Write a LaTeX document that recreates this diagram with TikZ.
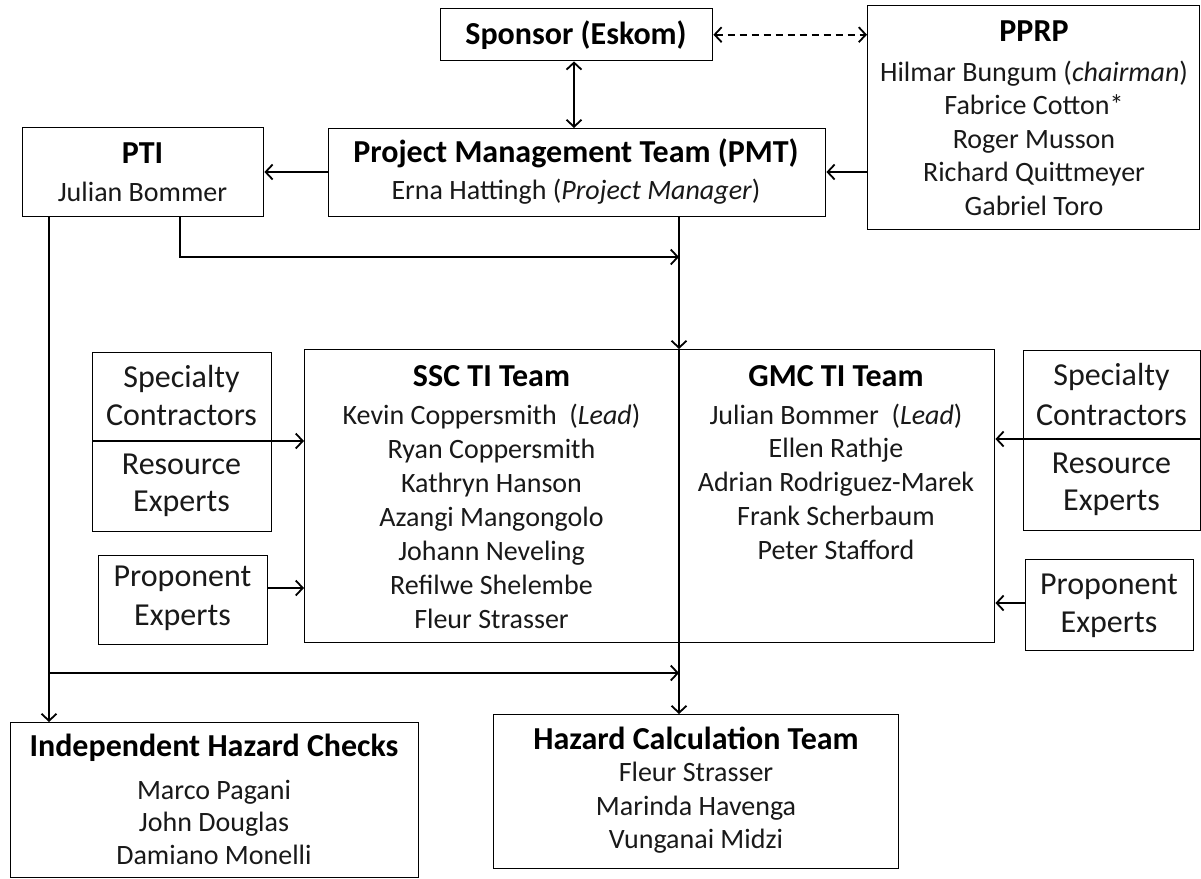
\documentclass[tikz,border=0pt]{standalone}
\usepackage{fontspec}
\setmainfont{Carlito}
\usetikzlibrary{arrows.meta}
\begin{document}
\begin{tikzpicture}[x=1pt,y=-1pt,
  box/.style={draw=black, line width=1.4pt, inner sep=0pt, anchor=north west},
  txt/.style={inner sep=0pt, align=center, text=black!90},
  ttl/.style={inner sep=0pt, align=center, text=black, font=\fontsize{32}{36}\selectfont\bfseries},
  arr/.style={line width=1.8pt, -{Straight Barb[length=7pt,width=15pt,line width=1.8pt]}},
  darr/.style={line width=1.8pt, {Straight Barb[length=7pt,width=15pt,line width=1.8pt]}-{Straight Barb[length=7pt,width=15pt,line width=1.8pt]}},
  ln/.style={line width=1.8pt}]
\useasboundingbox (0,0) rectangle (1201,878);
\fill[white] (0,0) rectangle (1201,878);
% boxes
\node[box, minimum width=272pt, minimum height=52pt] (sp) at (440,8) {};
\node[box, minimum width=332pt, minimum height=224pt] (pprp) at (867,5) {};
\node[box, minimum width=497pt, minimum height=88pt] (pmt) at (328,128) {};
\node[box, minimum width=241pt, minimum height=89pt] (pti) at (22,127) {};
\node[box, minimum width=690pt, minimum height=293pt] (ti) at (304,349) {};
\node[box, minimum width=179pt, minimum height=179pt] (lsr) at (92,352) {};
\node[box, minimum width=169pt, minimum height=89pt] (lpe) at (98,555) {};
\node[box, minimum width=177pt, minimum height=180pt] (rsr) at (1023,350) {};
\node[box, minimum width=168pt, minimum height=91pt] (rpe) at (1025,559) {};
\node[box, minimum width=408pt, minimum height=155pt] (ihc) at (10,722) {};
\node[box, minimum width=405pt, minimum height=154pt] (hct) at (493,714) {};
% inner coordinates
\coordinate (divtop) at (679,349);
\coordinate (divbot) at (679,642);
\coordinate (lsplit) at (92,441);
\coordinate (rsplit) at (1200,439);
\coordinate (ptiA) at (180,216);
\coordinate (ptiB) at (49,216);
\coordinate (junA) at (679,257);
\coordinate (junB) at (679,673);
% texts
\node[ttl] (sp-t) at (576,35) {Sponsor (Eskom)};
\node[ttl] (pprp-h) at (1034,31) {PPRP};
\node[txt, font=\fontsize{28}{33.5}\selectfont] (pprp-t) at (1034,138) {Hilmar Bungum (\textit{chairman})\\Fabrice Cotton*\\Roger Musson\\Richard Quittmeyer\\Gabriel Toro};
\node[ttl] (pmt-h) at (576,153) {Project Management Team (PMT)};
\node[txt, font=\fontsize{28}{33}\selectfont] (pmt-t) at (576,192) {Erna Hattingh (\textit{Project Manager})};
\node[ttl] (pti-h) at (142.5,153) {PTI};
\node[txt, font=\fontsize{28}{33}\selectfont] (pti-t) at (142.5,192) {Julian Bommer};
\node[ttl] (ssc-h) at (491.5,376) {SSC TI Team};
\node[txt, font=\fontsize{28}{34}\selectfont] (ssc-t) at (491.5,516) {Kevin Coppersmith\ \ (\textit{Lead})\\Ryan Coppersmith\\Kathryn Hanson\\Azangi Mangongolo\\Johann Neveling\\Refilwe Shelembe\\Fleur Strasser};
\node[ttl] (gmc-h) at (836,376) {GMC TI Team};
\node[txt, font=\fontsize{28}{33.8}\selectfont] (gmc-t) at (836,481.5) {Julian Bommer\ \ (\textit{Lead})\\Ellen Rathje\\Adrian Rodriguez-Marek\\Frank Scherbaum\\Peter Stafford};
\node[txt, font=\fontsize{32}{38}\selectfont] (lsr-t1) at (181.5,396) {Specialty\\Contractors};
\node[txt, font=\fontsize{32}{37}\selectfont] (lsr-t2) at (181.5,485.5) {Resource\\Experts};
\node[txt, font=\fontsize{32}{39}\selectfont] (lpe-t) at (182.5,598.5) {Proponent\\Experts};
\node[txt, font=\fontsize{32}{40}\selectfont] (rsr-t1) at (1111.5,395) {Specialty\\Contractors};
\node[txt, font=\fontsize{32}{37}\selectfont] (rsr-t2) at (1111.5,484.5) {Resource\\Experts};
\node[txt, font=\fontsize{32}{38}\selectfont] (rpe-t) at (1109,606) {Proponent\\Experts};
\node[ttl] (ihc-h) at (214,748) {Independent Hazard Checks};
\node[txt, font=\fontsize{28}{32.5}\selectfont] (ihc-t) at (214,822) {Marco Pagani\\John Douglas\\Damiano Monelli};
\node[ttl] (hct-h) at (696,738) {Hazard Calculation Team};
\node[txt, font=\fontsize{28}{33.5}\selectfont] (hct-t) at (696,808) {Fleur Strasser\\Marinda Havenga\\Vunganai Midzi};
% split lines and divider
\draw[line width=1.4pt] (lsplit) -- (lsplit -| lsr.east);
\draw[line width=1.4pt] (rsr.west |- rsplit) -- (rsplit);
\draw[ln] (divtop) -- (divbot);
% connectors
\draw[darr] (sp.south -| 574,0) -- (pmt.north -| 574,0);
\draw[darr, dashed, dash pattern=on 7pt off 5pt] (sp.east) -- (pprp.west |- sp.east);
\draw[arr] (pprp.west |- 0,172) -- (pmt.east |- 0,172);
\draw[arr] (pmt.west |- 0,172) -- (pti.east |- 0,172);
\draw[arr] (pmt.south -| divtop) -- (divtop);
\draw[arr] (ptiA) -- (ptiA |- junA) -- (junA);
\draw[arr] (ptiB) -- (ihc.north -| ptiB);
\draw[arr] (ptiB |- junB) -- (junB);
\draw[arr] (divbot) -- (hct.north -| divbot);
\draw[arr] (lsplit -| lsr.east) -- (lsplit -| ti.west);
\draw[arr] (lpe.east |- 0,588) -- (ti.west |- 0,588);
\draw[arr] (rsr.west |- rsplit) -- (ti.east |- rsplit);
\draw[arr] (rpe.west |- 0,603) -- (ti.east |- 0,603);
\end{tikzpicture}
\end{document}
